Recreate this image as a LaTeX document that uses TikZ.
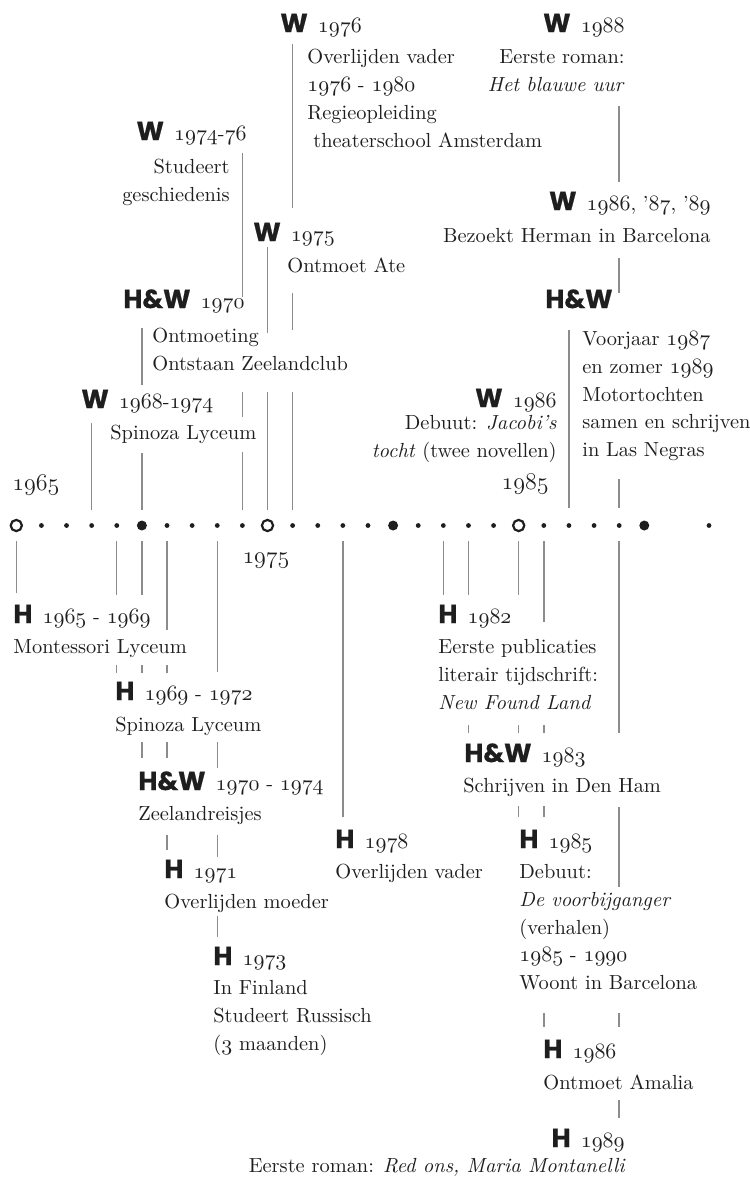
\documentclass[tikz,border=0pt]{standalone}
\usepackage{fontspec}
\usepackage{xcolor}
\usepackage{tikz}
\usetikzlibrary{positioning}

\newfontfamily\tagfont{Poppins}[BoldFeatures={FakeBold=0.7}]
\definecolor{ink}{HTML}{1E1E1E}
\definecolor{linegray}{HTML}{8C8C8C}
% old style figures from the math italic font
\newcommand{\os}[1]{{\fontsize{11.3}{13.9}\usefont{OML}{lmm}{m}{it}#1}}
\newcommand{\osl}[1]{{\fontsize{13.2}{13.9}\usefont{OML}{lmm}{m}{it}#1}}
\newcommand{\tg}[1]{{\tagfont\bfseries\fontsize{13}{13}\selectfont #1}\enspace}

\begin{document}
\begin{tikzpicture}[x=0.5pt,y=-0.5pt,
    txt/.style={inner sep=0pt,text=ink,font=\fontsize{10.2}{13.9}\selectfont},
    who/.style={inner sep=0pt,text=ink,font=\fontsize{10.2}{13.9}\selectfont}]
  \useasboundingbox (0,0) rectangle (750,1179);

  % the time axis
  \begin{scope}[every node/.style={circle,inner sep=0pt,fill=ink}]
    \foreach \y in {66,67,68,69,71,72,73,74,76,77,78,79,81,82,83,84,86,87,88,89}
      \node[minimum size=2.4pt] (d\y) at ({16.3+25.12*(\y-65)},525.5) {};
    \foreach \y in {70,80,90}
      \node[minimum size=5pt] (d\y) at ({16.3+25.12*(\y-65)},525.5) {};
    \foreach \y in {65,75,85}
      \node[fill=white,draw=ink,line width=1.1pt,minimum size=5.6pt] (d\y) at ({16.3+25.12*(\y-65)},525.5) {};
    \node[minimum size=2.4pt] (dend) at (709,525.5) {};
  \end{scope}

  \node[txt,anchor=base west] (l65) at (12,490) {\osl{1965}};
  \node[txt,anchor=base] (l75) at (266,563) {\osl{1975}};
  \node[txt,anchor=base east] (l85) at (549,489) {\osl{1985}};

  \begin{scope}[every edge/.style={draw=linegray,line width=0.7pt}]
    % above the axis
    \path (d68 |- 0,423) edge (d68 |- 0,510);
    \path (d70 |- 0,328) edge (d70 |- 0,385);
    \path (d70 |- 0,453) edge (d70 |- 0,510);
    \path (d74 |- 0,153) edge (d74 |- 0,297);
    \path (d74 |- 0,392) edge (d74 |- 0,417);
    \path (d74 |- 0,452) edge (d74 |- 0,510);
    \path (d75 |- 0,247) edge (d75 |- 0,333);
    \path (d75 |- 0,392) edge (d75 |- 0,510);
    \path (d76 |- 0,44) edge (d76 |- 0,208);
    \path (d76 |- 0,293) edge (d76 |- 0,330);
    \path (d76 |- 0,392) edge (d76 |- 0,510);
    \path (d87 |- 0,330) edge (d87 |- 0,508);
    \path (d89 |- 0,106) edge (d89 |- 0,182);
    \path (d89 |- 0,258) edge (d89 |- 0,293);
    \path (d89 |- 0,479) edge (d89 |- 0,508);
    % below the axis
    \path (d65 |- 0,541) edge (d65 |- 0,593);
    \path (d69 |- 0,541) edge (d69 |- 0,595);
    \path (d69 |- 0,665) edge (d69 |- 0,673);
    \path (d70 |- 0,541) edge (d70 |- 0,595);
    \path (d70 |- 0,665) edge (d70 |- 0,673);
    \path (d70 |- 0,742) edge (d70 |- 0,758);
    \path (d71 |- 0,541) edge (d71 |- 0,630);
    \path (d71 |- 0,665) edge (d71 |- 0,673);
    \path (d71 |- 0,742) edge (d71 |- 0,758);
    \path (d71 |- 0,835) edge (d71 |- 0,850);
    \path (d73 |- 0,541) edge (d73 |- 0,672);
    \path (d73 |- 0,742) edge (d73 |- 0,768);
    \path (d73 |- 0,835) edge (d73 |- 0,857);
    \path (d73 |- 0,916) edge (d73 |- 0,937);
    \path (d78 |- 0,541) edge (d78 |- 0,817);
    \path (d82 |- 0,541) edge (d82 |- 0,595);
    \path (d83 |- 0,541) edge (d83 |- 0,595);
    \path (d83 |- 0,725) edge (d83 |- 0,733);
    \path (d85 |- 0,541) edge (d85 |- 0,595);
    \path (d85 |- 0,725) edge (d85 |- 0,733);
    \path (d85 |- 0,806) edge (d85 |- 0,817);
    \path (d86 |- 0,541) edge (d86 |- 0,622);
    \path (d86 |- 0,725) edge (d86 |- 0,733);
    \path (d86 |- 0,806) edge (d86 |- 0,817);
    \path (d86 |- 0,1013) edge (d86 |- 0,1027);
    \path (d89 |- 0,541) edge (d89 |- 0,733);
    \path (d89 |- 0,807) edge (d89 |- 0,887);
    \path (d89 |- 0,1013) edge (d89 |- 0,1027);
    \path (d89 |- 0,1100) edge (d89 |- 0,1118);
  \end{scope}

  % events above the axis
  \node[who,anchor=base west] (t76w) at (280,32) {\tg{W}\os{1976}};
  \node[txt,anchor=north west,align=left] (b76w) at (307,49)
    {Overlijden vader\\\os{1976} - \os{1980}\\Regieopleiding\\\hspace{3pt}theaterschool Amsterdam};
  \node[who,anchor=base east] (t74w) at (247,140) {\tg{W}\os{1974}-\os{76}};
  \node[txt,anchor=north east,align=right] (b74w) at (230,159) {Studeert\\geschiedenis};
  \node[who,anchor=base west] (t75w) at (253,241) {\tg{W}\os{1975}};
  \node[txt,anchor=north west,align=left] (b75w) at (287,257) {Ontmoet Ate};
  \node[who,anchor=base west] (t70hw) at (123,308) {\tg{H\&W}\os{1970}};
  \node[txt,anchor=north west,align=left] (b70hw) at (152,328) {Ontmoeting\\Ontstaan Zeelandclub};
  \node[who,anchor=base west] (t68w) at (81,408) {\tg{W}\os{1968}-\os{1974}};
  \node[txt,anchor=north west,align=left] (b68w) at (110,425) {Spinoza Lyceum};

  \node[who,anchor=base east] (t88w) at (625,32) {\tg{W}\os{1988}};
  \node[txt,anchor=north east,align=right] (b88w) at (625,49) {Eerste roman:\\\textit{Het blauwe uur}};
  \node[who,anchor=base east] (t86w) at (711,210) {\tg{W}\os{1986}, ’\os{87}, ’\os{89}};
  \node[txt,anchor=north east,align=right] (b86w) at (711,228) {Bezoekt Herman in Barcelona};
  \node[who,anchor=base west] (t87hw) at (545,308) {\tg{H\&W}};
  \node[txt,anchor=north west,align=left] (b87hw) at (582,331)
    {Voorjaar \os{1987}\\en zomer \os{1989}\\Motortochten\\samen en schrijven\\in Las Negras};
  \node[who,anchor=base east] (t86wd) at (557,407) {\tg{W}\os{1986}};
  \node[txt,anchor=north east,align=right] (b86wd) at (557,415) {Debuut: \textit{Jacobi’s}\\\textit{tocht} (twee novellen)};

  % events below the axis
  \node[who,anchor=base west] (t65h) at (13,623) {\tg{H}\os{1965} - \os{1969}};
  \node[txt,anchor=north west,align=left] (b65h) at (13,639) {Montessori Lyceum};
  \node[who,anchor=base west] (t69h) at (115,700) {\tg{H}\os{1969} - \os{1972}};
  \node[txt,anchor=north west,align=left] (b69h) at (115,717) {Spinoza Lyceum};
  \node[who,anchor=base west] (t70h) at (138,790) {\tg{H\&W}\os{1970} - \os{1974}};
  \node[txt,anchor=north west,align=left] (b70h) at (138,806) {Zeelandreisjes};
  \node[who,anchor=base west] (t71h) at (164,878) {\tg{H}\os{1971}};
  \node[txt,anchor=north west,align=left] (b71h) at (164,894) {Overlijden moeder};
  \node[who,anchor=base west] (t73h) at (213,965) {\tg{H}\os{1973}};
  \node[txt,anchor=north west,align=left] (b73h) at (213,980) {In Finland\\Studeert Russisch\\(\os{3} maanden)};
  \node[who,anchor=base west] (t78h) at (335,848) {\tg{H}\os{1978}};
  \node[txt,anchor=north west,align=left] (b78h) at (335,864) {Overlijden vader};

  \node[who,anchor=base west] (t82h) at (438,623) {\tg{H}\os{1982}};
  \node[txt,anchor=north west,align=left] (b82h) at (438,639)
    {Eerste publicaties\\literair tijdschrift:\\\textit{New Found Land}};
  \node[who,anchor=base west] (t83hw) at (464,762) {\tg{H\&W}\os{1983}};
  \node[txt,anchor=north west,align=left] (b83hw) at (463,778) {Schrijven in Den Ham};
  \node[who,anchor=base west] (t85h) at (519,848) {\tg{H}\os{1985}};
  \node[txt,anchor=north west,align=left] (b85h) at (519,864)
    {Debuut:\\\textit{De voorbijganger}\\(verhalen)\\\os{1985} - \os{1990}\\Woont in Barcelona};
  \node[who,anchor=base west] (t86h) at (543,1058) {\tg{H}\os{1986}};
  \node[txt,anchor=north west,align=left] (b86h) at (543,1074) {Ontmoet Amalia};
  \node[who,anchor=base east] (t89h) at (625,1147) {\tg{H}\os{1989}};
  \node[txt,anchor=north east,align=right] (b89h) at (626,1158)
    {Eerste roman: \textit{Red ons, Maria Montanelli}};
\end{tikzpicture}
\end{document}
